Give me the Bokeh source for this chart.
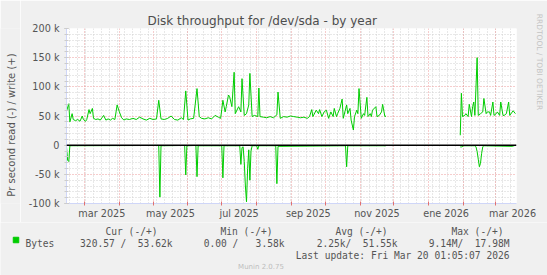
import math
import pandas as pd
from bokeh.plotting import figure
from bokeh.layouts import row, column
from bokeh.models import Range1d, FixedTicker, Span, Title, LinearAxis
from bokeh.core.properties import value
from bokeh.embed import file_html
from bokeh.resources import INLINE

# ---------------- data ----------------
END = pd.Timestamp("2026-03-20 01:05:07")
START = END - pd.Timedelta(days=400)

NaN = float("nan")
# day offset from START, value in kB/s (write = +, read = -)
write_day = [0, 2, 3, 5, 6, 8, 10, 12, 14, 15, 17, 18, 20, 21, 23, 24, 26, 28, 30, 33,
             35, 37, 39, 41, 43, 45, 47, 49, 51, 53, 56, 59, 62, 65, 68, 71, 74, 77, 80, 82,
             84, 87, 90, 93, 96, 99, 102, 104, 106, 108, 110, 113, 116, 118, 120, 123, 126, 129, 132, 135,
             137, 138, 139, 141, 142, 144, 145, 147, 149, 150, 153, 155, 156, 158, 160, 162, 163, 165, 167, 170,
             171, 172, 175, 178, 181, 184, 187, 188, 190, 193, 196, 199, 202, 205, 208, 211, 214, 216, 218, 219,
             222, 224, 225, 227, 229, 231, 233, 235, 237, 238, 240, 241, 243, 244, 245, 246, 249, 250, 252, 253,
             255, 256, 258, 259, 260, 262, 264, 265, 267, 268, 270, 271, 272, 275, 276, 278, 280, 281, 283, 284,
             317, 350, 351, 352, 354, 355, 357, 358, 360, 361, 362, 363, 365, 366, 368, 370, 371, 373, 374, 376,
             377, 379, 380, 382, 383, 385, 386, 388, 389, 391, 393, 394, 397, 399]
write_k = [58, 71, 40, 54, 44, 42, 44, 41, 50, 44, 41, 44, 61, 54, 63, 46, 44, 45, 43, 51,
           43, 45, 43, 46, 44, 69, 57, 47, 43, 45, 44, 46, 44, 48, 45, 43, 46, 44, 45, 77,
           45, 44, 46, 50, 44, 43, 47, 44, 93, 43, 45, 46, 97, 49, 46, 45, 47, 45, 51, 48,
           46, 61, 77, 57, 66, 86, 83, 66, 125, 54, 66, 57, 114, 51, 54, 69, 123, 49, 51, 49,
           98, 49, 48, 47, 49, 47, 52, 91, 46, 49, 48, 50, 49, 48, 47, 48, 46, 49, 61, 49,
           60, 54, 61, 49, 57, 60, 46, 57, 49, 63, 49, 54, 63, 71, 79, 46, 69, 54, 63, 43,
           26, 49, 60, 54, 97, 46, 54, 51, 82, 49, 54, 49, 60, 66, 49, 51, 57, 70, 49, 50,
           NaN, 17, 89, 49, 51, 54, 49, 70, 49, 66, 74, 51, 150, 51, 54, 57, 80, 54, 57, 57,
           51, 74, 51, 54, 57, 51, 74, 51, 51, 54, 74, 51, 59, 54]

read_day = [0, 1, 2, 3, 81, 82, 83, 84, 105, 106, 107, 115, 116, 117, 138, 139, 140,
            154, 155, 156, 157, 158, 159, 160, 161, 162, 163, 164, 165, 169, 170, 171,
            186, 187, 188, 248, 249, 250, 284, 317, 350, 351, 353, 363, 364, 365, 366,
            367, 368, 369, 370, 371, 396, 399]
read_k = [-3, -26, -28, -1, -0.5, -1, -89, -1, -0.5, -51, -1, -0.5, -54, -1, -1, -56, -1,
          -1, -33, -4, -3, -28, -70, -97, -40, -8, -60, -10, -1, -1, -7, -1,
          -1, -66, -2, -1, -37, -1, -1, NaN, -3, -3, -1, -1, -3, -11, -24,
          -37, -31, -14, -3, -1, -2, -0.3]

y_ticks = [-100, -50, 0, 50, 100, 150, 200]
y_tick_labels = ["-100 k", "-50 k", "0", "50 k", "100 k", "150 k", "200 k"]
x_label_months = ["2025-03", "2025-05", "2025-07", "2025-09", "2025-11", "2026-01", "2026-03"]
x_tick_labels = ["mar 2025", "may 2025", "jul 2025", "sep 2025", "nov 2025", "ene 2026", "mar 2026"]

title_text = "Disk throughput for /dev/sda - by year"
y_axis_label = "Pr second read (-) / write (+)"
legend_headers = ["Cur (-/+)", "Min (-/+)", "Avg (-/+)", "Max (-/+)"]
legend_name = "Bytes"
legend_values = ["320.57 /  53.62k", "0.00 /   3.58k", "2.25k/  51.55k", "9.14M/  17.98M"]
last_update = "Last update: Fri Mar 20 01:05:07 2026"
footer = "Munin 2.0.75"
watermark = "RRDTOOL / TOBI OETIKER"

assert len(write_day) == len(write_k) and len(read_day) == len(read_k)

# ---------------- helpers ----------------
def ms(ts):
    return int(pd.Timestamp(ts).value // 10**6)

def keep_spaces(s):
    return s.replace(" ", "\u00a0")

DAY_MS = 86400000
start_ms, end_ms = ms(START), ms(END)
wx = [start_ms + d * DAY_MS for d in write_day]
rx = [start_ms + d * DAY_MS for d in read_day]

month_starts = pd.date_range("2025-03-01", "2026-04-01", freq="MS")
month_ms = [ms(m) for m in month_starts if START <= m <= END]
sunday_ms = [ms(s) for s in pd.date_range(START.normalize(), END, freq="W-SUN")]
label_ms = []
for m in x_label_months:
    a = pd.Timestamp(m + "-01")
    b = a + pd.offsets.MonthBegin(1)
    label_ms.append(ms(a + (b - a) / 2))

W, H = 547, 275
LEFT_W = 20          # strip holding the vertical axis title
MAIN_H = 222         # main figure height (title + plot + x labels)
FL, FR, FT, FB = 66, 516, 28, 203   # frame edges in canvas px
Y0, Y1 = -100, 200

FONT = "DejaVu Sans"
MONO = "DejaVu Sans Mono"
TXT = "#555555"
BG = "#F0F0F0"
AXIS_C = "#CFD6F8"
MGRID = "#ec9a9a"
GRID = "#d0d0d0"
GREEN = "#00CC00"

# ---------------- main plot ----------------
p = figure(width=W - LEFT_W, height=MAIN_H, output_backend="svg", toolbar_location=None,
           title=None, x_range=Range1d(start_ms, end_ms), y_range=Range1d(Y0, Y1),
           min_border_left=FL - LEFT_W, min_border_right=W - FR, min_border_top=FT,
           min_border_bottom=MAIN_H - FB)
p.background_fill_color = "#FFFFFF"
p.border_fill_color = BG
p.outline_line_color = None

p.xgrid.ticker = FixedTicker(ticks=month_ms, minor_ticks=sunday_ms)
p.ygrid.ticker = FixedTicker(ticks=y_ticks,
                             minor_ticks=[v for v in range(-100, 201, 10) if v % 50 != 0])
for g in (p.xgrid, p.ygrid):
    g.grid_line_color = MGRID
    g.grid_line_dash = "1 2"
    g.minor_grid_line_color = GRID
    g.minor_grid_line_dash = "1 2"

xa = p.xaxis[0]
xa.ticker = FixedTicker(ticks=label_ms, minor_ticks=month_ms)
xa.major_label_overrides = {t: l for t, l in zip(label_ms, x_tick_labels)}
xa.major_tick_line_color = None
xa.major_tick_in = 0
xa.major_tick_out = 0
xa.minor_tick_line_color = "#e07070"
xa.minor_tick_in = 2
xa.minor_tick_out = 2
xa.axis_line_color = AXIS_C
xa.major_label_text_font = FONT
xa.major_label_text_font_size = "9.7px"
xa.major_label_text_color = TXT
xa.major_label_standoff = 2

ya = p.yaxis[0]
ya.ticker = FixedTicker(ticks=y_ticks, minor_ticks=list(range(-100, 201, 10)))
ya.major_label_overrides = {t: l for t, l in zip(y_ticks, y_tick_labels)}
ya.axis_line_color = AXIS_C
ya.major_tick_line_color = "#bbbbbb"
ya.minor_tick_line_color = "#cccccc"
ya.major_tick_in = 2
ya.major_tick_out = 2
ya.minor_tick_in = 2
ya.minor_tick_out = 2
ya.major_label_text_font = FONT
ya.major_label_text_font_size = "9.7px"
ya.major_label_text_color = TXT
ya.major_label_standoff = 5

p.line(wx, write_k, line_color=GREEN, line_width=1)
p.line(rx, read_k, line_color=GREEN, line_width=1)
p.add_layout(Span(location=0, dimension="width", line_color="black", line_width=1.5))

p.add_layout(Title(text=title_text, align="left", offset=147 - FL, vertical_align="bottom",
                   standoff=2, text_font=FONT, text_font_size="12px",
                   text_font_style="normal", text_color="#4d4d4d"), "above")

# vertical watermark at the right edge (rrdtool credit), centred at canvas y = 61.5
wm_pos = Y1 - (61.5 - FT) / (FB - FT) * (Y1 - Y0)
wm_axis = LinearAxis(ticker=FixedTicker(ticks=[wm_pos], minor_ticks=[]),
                     major_label_overrides={wm_pos: watermark},
                     major_label_orientation="parallel",
                     axis_line_color=None, major_tick_line_color=None,
                     minor_tick_line_color=None, major_tick_in=0, major_tick_out=0,
                     major_label_standoff=18, major_label_text_font=FONT,
                     major_label_text_font_size="7.5px", major_label_text_color="#c4c4c4")
p.add_layout(wm_axis, "right")

# ---------------- side strips (text only) ----------------
def strip(w, h):
    f = figure(width=w, height=h, output_backend="svg", toolbar_location=None,
               x_range=Range1d(0, w), y_range=Range1d(h, 0), min_border=0,
               x_axis_location=None, y_axis_location=None)
    f.xgrid.visible = False
    f.ygrid.visible = False
    f.outline_line_color = None
    f.background_fill_color = BG
    f.border_fill_color = BG
    return f

left = strip(LEFT_W, MAIN_H)
left.text(x=[11], y=[122.5], text=[y_axis_label], angle=math.pi / 2,
          text_font=value(FONT), text_font_size=value("10px"), text_color=TXT,
          text_align="center", text_baseline="middle")

LEG_H = H - MAIN_H
leg = strip(W, LEG_H)
def ly(cy):
    return cy - MAIN_H

mono = dict(text_font=value(MONO), text_font_size=value("9.6px"), text_color=TXT,
            text_baseline="alphabetic")
leg.text(x=[157, 272, 387, 503], y=[ly(231)] * 4,
         text=[keep_spaces(h) for h in legend_headers], text_align="right", **mono)
leg.scatter(x=[15.5], y=[ly(239.5)], marker="square", size=5.5,
            fill_color=GREEN, line_color=GREEN)
leg.text(x=[25], y=[ly(243)], text=[legend_name], text_align="left", **mono)
leg.text(x=[172, 284, 397, 509], y=[ly(243)] * 4,
         text=[keep_spaces(v) for v in legend_values], text_align="right", **mono)
leg.text(x=[509], y=[ly(255.3)], text=[keep_spaces(last_update)], text_align="right", **mono)
leg.text(x=[260.5], y=[ly(266.5)], text=[footer],
         text_font=value(FONT), text_font_size=value("7px"), text_color="#bdbdbd",
         text_align="center", text_baseline="alphabetic")

layout = column(row(left, p, spacing=0), leg, spacing=0)
open("out.html", "w").write(file_html(layout, INLINE))
